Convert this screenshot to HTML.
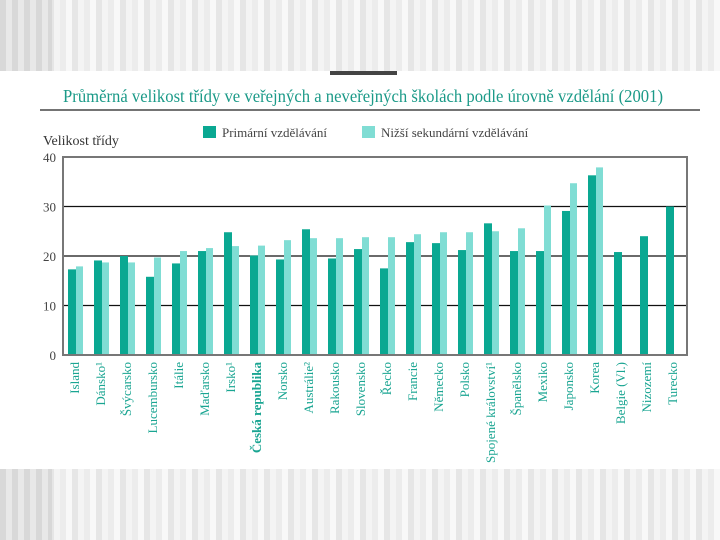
<!DOCTYPE html>
<html><head><meta charset="utf-8"><style>
body{margin:0;width:720px;height:540px;overflow:hidden;background:#fff;font-family:"Liberation Serif",serif}
.band{position:absolute;left:0;width:720px;background:repeating-linear-gradient(90deg,#e6e6e6 0 6px,#f4f4f4 6px 12px,#ececec 12px 18px,#f8f8f8 18px 24px)}
</style></head><body>
<div class="band" style="top:0;height:71px"></div>
<div class="band" style="top:469px;height:71px"></div>
<div style="position:absolute;left:0;top:469px;width:52px;height:71px;background:repeating-linear-gradient(90deg,#d8d8d8 0 6px,#e8e8e8 6px 12px)"></div>
<div style="position:absolute;left:0;top:0;width:52px;height:71px;background:repeating-linear-gradient(90deg,#d8d8d8 0 6px,#e8e8e8 6px 12px)"></div>
<div style="position:absolute;left:330px;top:71px;width:67px;height:4px;background:#444"></div>
<svg width="720" height="540" style="position:absolute;left:0;top:0">
<text x="63" y="102" font-size="18" fill="#1b9a88" textLength="600" lengthAdjust="spacingAndGlyphs">Průměrná velikost třídy ve veřejných a neveřejných školách podle úrovně vzdělání (2001)</text>
<line x1="40" y1="110" x2="700" y2="110" stroke="#222" stroke-width="1.3"/>
<text x="43" y="145" font-size="14" fill="#333">Velikost třídy</text>
<rect x="203" y="126" width="13" height="12" fill="#0aa892"/>
<text x="222" y="137" font-size="13" fill="#444">Primární vzdělávání</text>
<rect x="362" y="126" width="13" height="12" fill="#80ddd4"/>
<text x="381" y="137" font-size="13" fill="#444">Nižší sekundární vzdělávání</text>
<g id="grid"></g><g id="bars"></g><g id="labels"></g>
<rect x="63" y="157" width="624" height="198" fill="none" stroke="#777" stroke-width="2"/>
</svg>
<script>
const categories=["Island","Dánsko¹","Švýcarsko","Lucembursko","Itálie","Maďarsko","Irsko¹","Česká republika","Norsko","Austrálie²","Rakousko","Slovensko","Řecko","Francie","Německo","Polsko","Spojené království¹","Španělsko","Mexiko","Japonsko","Korea","Belgie (Vl.)","Nizozemí","Turecko"];
const primary=[17.3,19.1,20,15.8,18.5,21,24.8,20.1,19.3,25.4,19.5,21.4,17.5,22.8,22.6,21.2,26.6,21,21,29.1,36.3,20.8,24,30];
const secondary=[17.9,18.7,18.7,19.7,21,21.6,22,22.1,23.2,23.6,23.6,23.8,23.8,24.4,24.8,24.8,25,25.6,30.2,34.7,37.9,null,null,null];
const yTicks=[0,10,20,30,40];
const NS="http://www.w3.org/2000/svg";
const y0=355,y1=157,yMax=40;
const yS=v=>y0-(v/yMax)*(y0-y1);
const xS=i=>68+i*26;
const grid=document.getElementById('grid'),bars=document.getElementById('bars'),labels=document.getElementById('labels');
function mk(tag,attrs,parent){const e=document.createElementNS(NS,tag);for(const k in attrs)e.setAttribute(k,attrs[k]);parent.appendChild(e);return e;}
yTicks.forEach(t=>{
  if(t>0&&t<40){const l=mk('line',{x1:63,x2:687,y1:yS(t),y2:yS(t),stroke:'#111','stroke-width':1.3},grid);
  
  }
  const tx=mk('text',{x:56,y:yS(t)+5,'font-size':13,fill:'#444','text-anchor':'end'},grid);tx.textContent=t;
  
  
});
categories.forEach((c,i)=>{
  const x=xS(i);
  const p=mk('rect',{x:x,y:yS(primary[i]),width:8,height:y0-yS(primary[i]),fill:'#0aa892'},bars);
  
  
  if(secondary[i]!=null){const s=mk('rect',{x:x+8,y:yS(secondary[i]),width:7,height:y0-yS(secondary[i]),fill:'#80ddd4'},bars);
  
  }
  const cx=x+11;
  const t=mk('text',{x:0,y:0,'font-size':13,fill:'#1aa592','text-anchor':'end',transform:`translate(${cx},362) rotate(-90)`},labels);
  if(i===7){t.setAttribute('font-weight','bold');}
  t.textContent=c;
  
  
});
</script>
</body></html>
